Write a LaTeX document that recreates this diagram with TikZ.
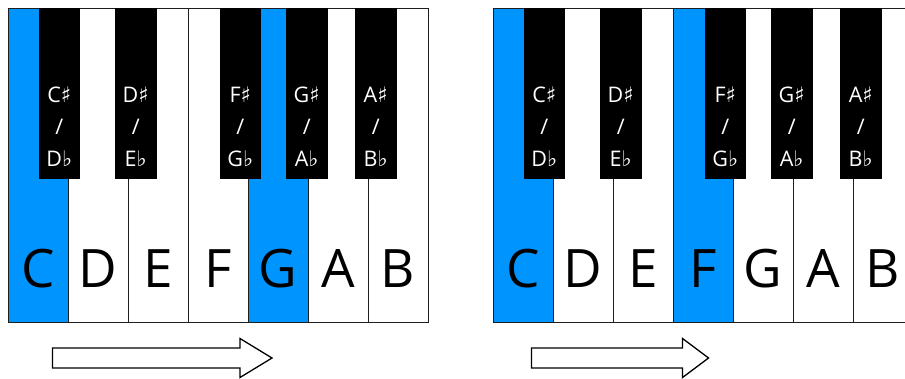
\documentclass[tikz,border=0pt]{standalone}
\usepackage{fontspec}
\setmainfont{Open Sans}
\newfontfamily\symfont{DejaVu Sans}
\definecolor{keyblue}{RGB}{0,148,255}
\definecolor{keyline}{RGB}{30,30,30}
\tikzset{
  whitekey/.style={draw=keyline, line width=1.3pt, anchor=north west, inner sep=0pt,
    minimum width=60pt, minimum height=313.5pt},
  blackkey/.style={fill=black, anchor=north west, inner sep=0pt,
    minimum width=41.5pt, minimum height=171pt},
  wlabel/.style={anchor=base, inner sep=0pt, font=\fontsize{53}{60}\selectfont},
  blabel/.style={anchor=base, inner sep=0pt, align=center, text=white,
    font=\fontsize{21.5}{32}\selectfont},
  arrowshape/.style={draw=black, fill=white, line width=1.3pt, line join=miter},
}
\newcommand{\shp}{{\symfont ♯}}
\newcommand{\flt}{{\symfont ♭}}
\begin{document}
\begin{tikzpicture}[x=1pt,y=-1pt]
\clip (0,0) rectangle (905,378);
\fill[white] (0,0) rectangle (905,378);
% left keyboard
\foreach \i/\n/\c in {0/C/keyblue,1/D/white,2/E/white,3/F/white,4/G/keyblue,5/A/white,6/B/white} {
  \node[whitekey, fill=\c] (L\n) at ({8+60*\i},8) {};
  \node[wlabel] (Lt\n) at ({38+60*\i},287) {\n};
}
\foreach \x/\s/\f/\m in {38.5/C/D/Cs,115/D/E/Ds,219.5/F/G/Fs,286/G/A/Gs,355/A/B/As} {
  \node[blackkey] (L\m) at (\x,8) {};
  \node[blabel] (Lt\m) at ({\x+20.75},166) {\s\shp\\/\\\f\flt};
}
% right keyboard
\foreach \i/\n/\c in {0/C/keyblue,1/D/white,2/E/white,3/F/keyblue,4/G/white,5/A/white,6/B/white} {
  \node[whitekey, fill=\c] (R\n) at ({493+60*\i},8) {};
  \node[wlabel] (Rt\n) at ({523+60*\i},287) {\n};
}
\foreach \x/\s/\f/\m in {523.5/C/D/Cs,600/D/E/Ds,704.5/F/G/Fs,771/G/A/Gs,840/A/B/As} {
  \node[blackkey] (R\m) at (\x,8) {};
  \node[blabel] (Rt\m) at ({\x+20.75},166) {\s\shp\\/\\\f\flt};
}
% arrows
\draw[arrowshape] (52.5,348) -- (240,348) -- (240,338.5) -- (272,358) -- (240,377.5) -- (240,368) -- (52.5,368) -- cycle;
\draw[arrowshape] (531.5,348) -- (682.5,348) -- (682.5,338.5) -- (708.5,358) -- (682.5,377.5) -- (682.5,368) -- (531.5,368) -- cycle;
\end{tikzpicture}
\end{document}
